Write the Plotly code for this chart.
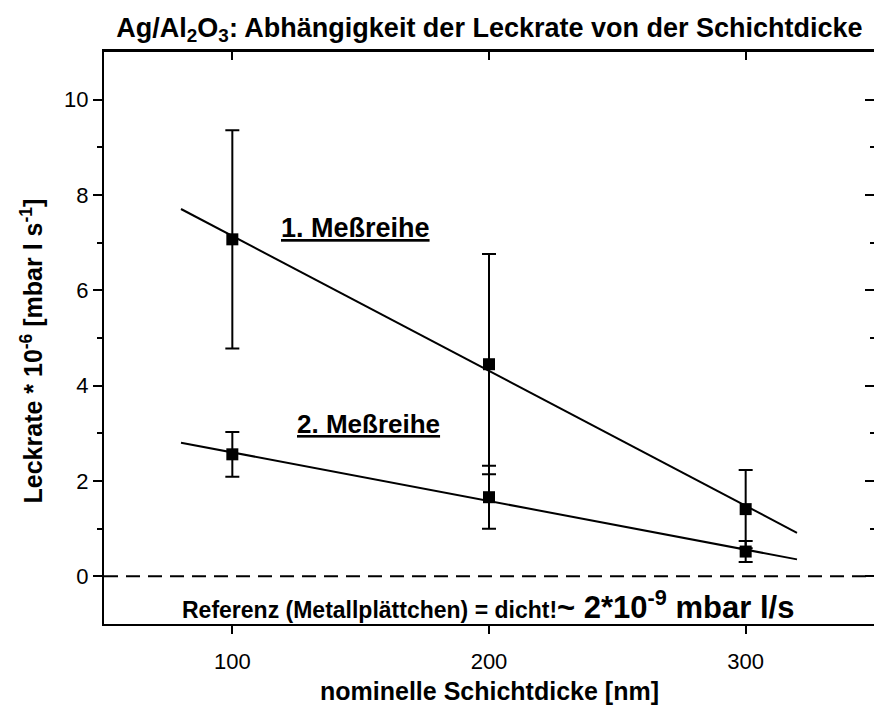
import numpy as np
import plotly.graph_objects as go

# Nominal layer thickness [nm]
thickness = [100, 200, 300]

# Leak rate * 1e-6 [mbar l/s] with standard deviations
series1_y = [7.07, 4.45, 1.41]
series1_err = [2.29, 2.31, 0.82]
series2_y = [2.56, 1.66, 0.52]
series2_err = [0.47, 0.66, 0.22]

# Range over which the linear fits are drawn
fit_x = [80, 320]

x_range = [50, 350]
y_range = [-1, 11]

FONT = "Liberation Sans, Arial"

fig = go.Figure()


def add_series(y, err):
    k, d = np.polyfit(thickness, y, 1)
    fx = np.array(fit_x, dtype=float)
    fig.add_trace(go.Scatter(x=fx, y=k * fx + d, mode="lines",
                             line=dict(color="black", width=2),
                             showlegend=False, hoverinfo="skip"))
    fig.add_trace(go.Scatter(x=thickness, y=y, mode="markers",
                             marker=dict(symbol="square", size=12, color="black"),
                             error_y=dict(type="data", array=err, visible=True,
                                          color="black", thickness=2, width=7),
                             showlegend=False))


add_series(series1_y, series1_err)
add_series(series2_y, series2_err)

# secondary axes for the top/right frame with inward ticks
fig.add_trace(go.Scatter(x=[], y=[], xaxis="x2", yaxis="y2",
                         showlegend=False, hoverinfo="skip"))

# reference level (metal plate = tight)
fig.add_shape(type="line", xref="paper", x0=0, x1=1, yref="y", y0=0, y1=0,
              line=dict(color="black", width=2, dash="14px,8px"))

axis_common = dict(showgrid=False, zeroline=False, showline=True,
                   linecolor="black", tickcolor="black")

fig.update_layout(
    width=874, height=713,
    margin=dict(l=104, r=0, t=52, b=89),
    paper_bgcolor="white", plot_bgcolor="white",
    xaxis=dict(range=x_range, tickvals=thickness, ticks="outside", ticklen=8,
               tickwidth=2, linewidth=2, ticklabelstandoff=9,
               tickfont=dict(family=FONT, size=22, color="black"),
               **axis_common),
    yaxis=dict(range=y_range, tickvals=[0, 2, 4, 6, 8, 10], ticks="outside",
               ticklen=9, tickwidth=2, linewidth=2,
               minor=dict(tickvals=[1, 3, 5, 7, 9], ticks="outside", ticklen=5,
                          tickwidth=2, tickcolor="black"),
               tickfont=dict(family=FONT, size=22, color="black"),
               **axis_common),
    xaxis2=dict(range=x_range, overlaying="x", side="top", anchor="y2",
                tickvals=thickness, ticks="inside", ticklen=8, tickwidth=2,
                linewidth=3, showticklabels=False, **axis_common),
    yaxis2=dict(range=y_range, overlaying="y", side="right", anchor="x2",
                tickvals=[0, 2, 4, 6, 8, 10], ticks="inside", ticklen=9,
                tickwidth=2, linewidth=2, showticklabels=False,
                minor=dict(tickvals=[1, 3, 5, 7, 9], ticks="inside", ticklen=4,
                           tickwidth=2, tickcolor="black"),
                **axis_common),
    title=dict(text="<b>Ag/Al<sub>2</sub>O<sub>3</sub>: Abhängigkeit der Leckrate von der Schichtdicke</b>",
               font=dict(family=FONT, size=27, color="black"),
               x=0.56, xanchor="center", y=0.962, yanchor="middle"),
)

# axis titles
fig.add_annotation(x=0.5, y=-0.117, xref="paper", yref="paper",
                   showarrow=False, xanchor="center", yanchor="middle",
                   text="<b>nominelle Schichtdicke [nm]</b>",
                   font=dict(family=FONT, size=25, color="black"))
fig.add_annotation(x=-0.094, y=4.73, xref="paper", yref="y",
                   showarrow=False, textangle=-90,
                   xanchor="center", yanchor="middle",
                   text="<b>Leckrate * 10<sup>-6</sup> [mbar l s<sup>-1</sup>]</b>",
                   font=dict(family=FONT, size=25, color="black"))

# series labels
fig.add_annotation(x=148, y=7.3, xref="x", yref="y", showarrow=False,
                   text="<b><u>1. Meßreihe</u></b>",
                   font=dict(family=FONT, size=27, color="black"))
fig.add_annotation(x=153, y=3.2, xref="x", yref="y", showarrow=False,
                   text="<b><u>2. Meßreihe</u></b>",
                   font=dict(family=FONT, size=26, color="black"))

# reference note below the dashed line
fig.add_annotation(x=199.5, y=-0.6, xref="x", yref="y", showarrow=False,
                   xanchor="center",
                   text="<b>Referenz (Metallplättchen) = dicht!</b>"
                        "<span style='font-size:31px'><b>~ 2*10<sup>-9</sup> mbar l/s</b></span>",
                   font=dict(family=FONT, size=23, color="black"))

fig.write_html("out.html")
